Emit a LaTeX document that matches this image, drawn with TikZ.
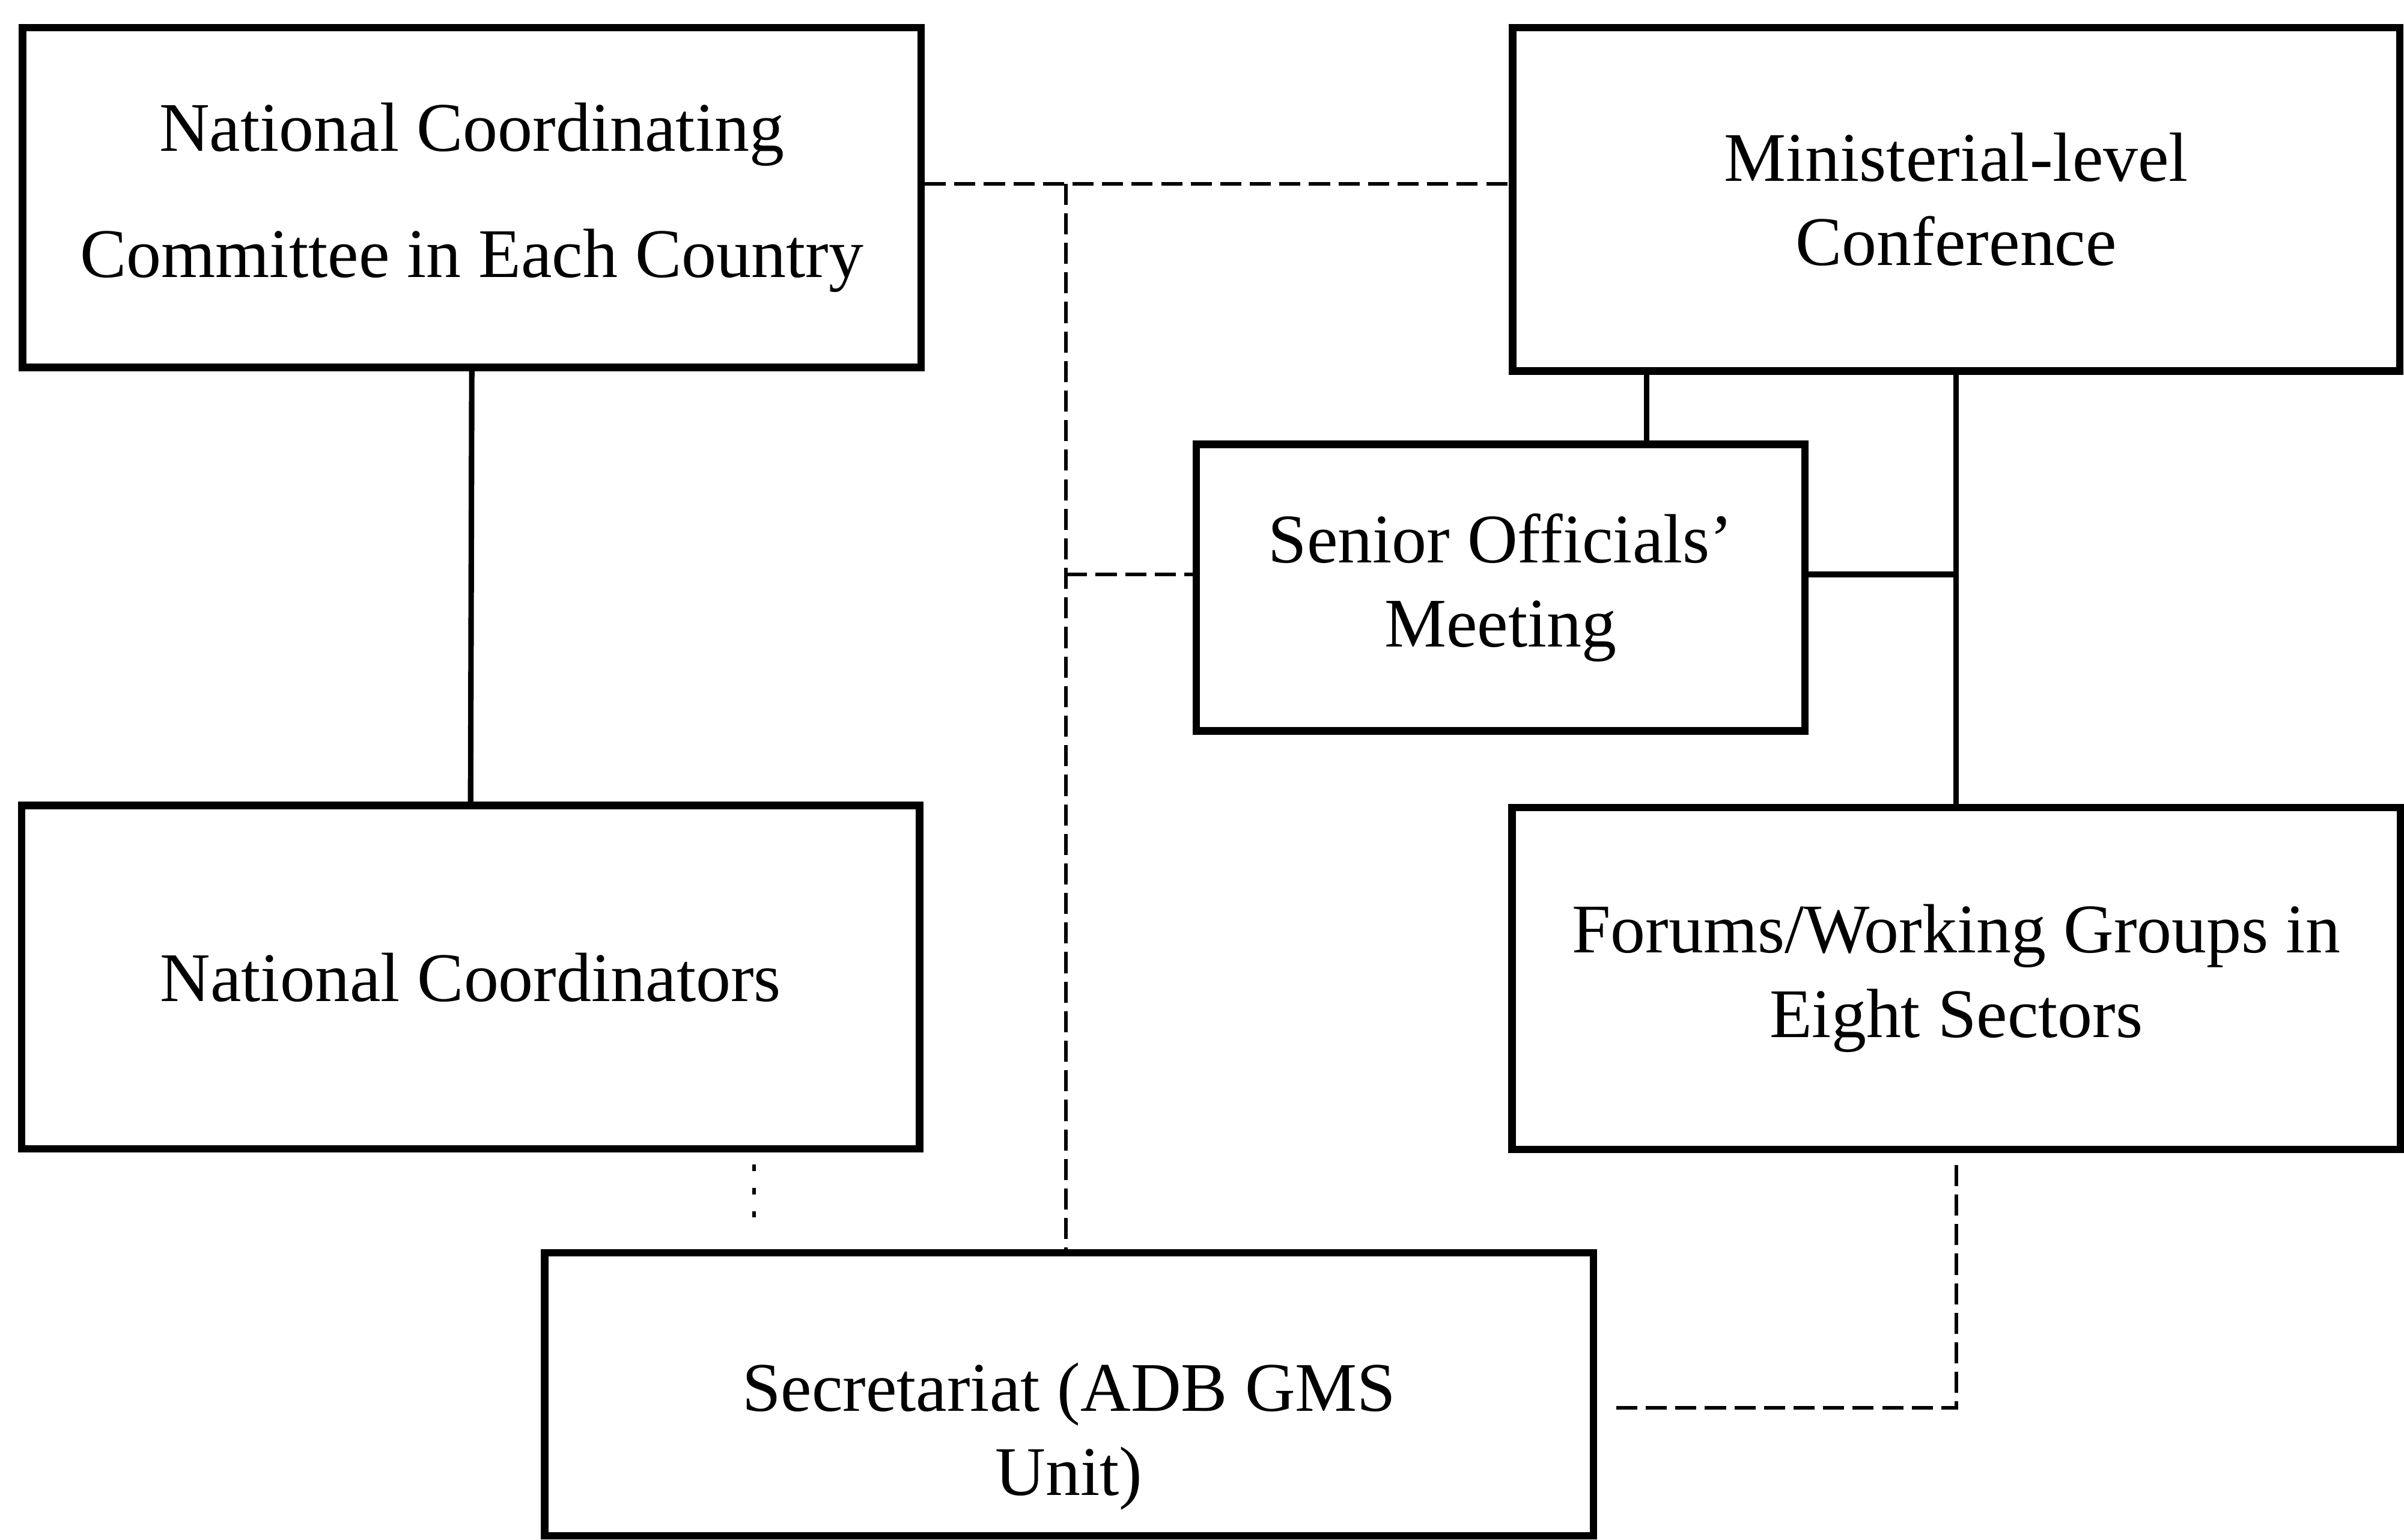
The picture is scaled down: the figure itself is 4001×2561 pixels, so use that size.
\documentclass[tikz,border=0pt]{standalone}
\usepackage{fontspec}
\setmainfont{Liberation Serif}
\tikzset{box/.style={draw, line width=3.5pt, align=center, inner sep=0pt}}
\tikzset{link/.style={line width=2.6pt}}
\tikzset{dlink/.style={line width=1.8pt, dash pattern=on 10pt off 4pt}}
\tikzset{dotlink/.style={line width=1.8pt, dash pattern=on 3pt off 8pt}}

\begin{document}
\begin{tikzpicture}[x=0.01cm, y=-0.01cm, font=\fontsize{33}{40}\selectfont]
    \fill[white] (0,0) rectangle (4001,2561);
    % boxes
    \node[box, minimum width=14.96cm, minimum height=5.66cm] (ncc) at (786,329) {National Coordinating\\[20pt]Committee in Each Country};
    \node[box, minimum width=14.77cm, minimum height=5.72cm] (mc) at (3259,332) {Ministerial-level\\Conference};
    \node[box, minimum width=10.13cm, minimum height=4.77cm] (som) at (2500,979) {Senior Officials'\\Meeting};
    \node[box, minimum width=14.95cm, minimum height=5.72cm] (nc) at (784,1628) {National Coordinators};
    \node[box, minimum width=14.79cm, minimum height=5.69cm] (fwg) at (3259,1630) {Forums/Working Groups in\\Eight Sectors};
    \node[box, minimum width=17.46cm, minimum height=4.71cm,
        label={[name=sectext, align=center, yshift=-0.7cm]center:Secretariat (ADB GMS\\Unit)}] (sec) at (1781,2323) {};
    % junctions
    \coordinate (top) at (1776,306);
    \coordinate (mid) at (2743,957);
    \coordinate (ncdot) at (1256,0);
    % solid links
    \draw[link] (ncc.south) -- (nc.north);
    \draw[link] (mc.south -| mid) -- (som.north -| mid);
    \draw[link] (mc.south) -- (fwg.north);
    \draw[link] (som.east |- mid) -- (mc.south |- mid);
    % dashed links
    \draw[dlink] (ncc.east |- top) -- (mc.west |- top);
    \draw[dlink] (top) -- (sec.north -| top);
    \draw[dlink] (top |- mid) -- (som.west |- mid);
    \draw[dotlink, shorten <=0.2cm, shorten >=0.3cm] (nc.south -| ncdot) -- (sec.north -| ncdot);
    \draw[dlink, shorten <=0.2cm, shorten >=0.25cm] (fwg.south) |- ([yshift=-0.22cm]sec.east);
\end{tikzpicture}
\end{document}
